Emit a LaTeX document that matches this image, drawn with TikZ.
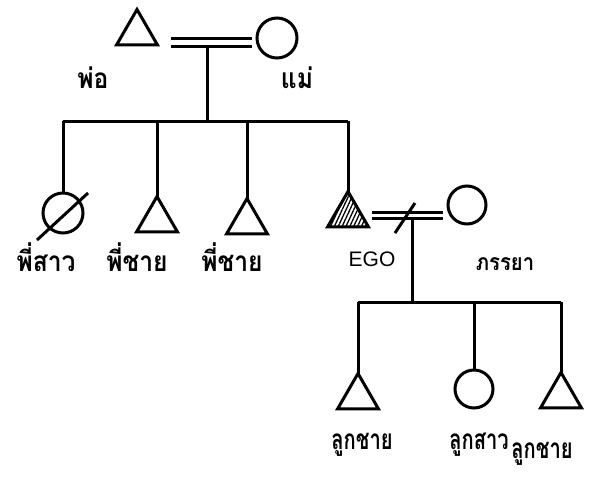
\documentclass[tikz,border=0pt]{standalone}
\usepackage{fontspec}
\newfontfamily\thai[Script=Thai,FakeStretch=0.88]{Loma}
\newfontfamily\thaic[Script=Thai,FakeStretch=0.72]{Loma}
\newfontfamily\lat{Liberation Sans}
\usetikzlibrary{shapes.geometric,patterns.meta}
\tikzset{
  ln/.style={line width=3pt},
  male/.style={regular polygon,regular polygon sides=3,draw,line width=3pt,minimum size=47pt,inner sep=0pt,outer sep=0pt},
  female/.style={circle,draw,line width=3pt,inner sep=0pt,outer sep=0pt},
  lbl/.style={font=\thai\bfseries\fontsize{28}{28}\selectfont,inner sep=0pt},
  clbl/.style={font=\thaic\bfseries\fontsize{28}{28}\selectfont,inner sep=0pt}
}
\begin{document}
\begin{tikzpicture}[x=1pt,y=-1pt]
\useasboundingbox (0,0) rectangle (616,488);
% generation 1
\node[male] (father) at (137,33) {};
\node[female,minimum size=40pt] (mother) at (277,38) {};
\coordinate (fa) at (171,38); \coordinate (fb) at (252,38);
\coordinate (fc) at (171,46); \coordinate (fd) at (252,46);
\coordinate (fm) at (207,46);
\draw[ln] (fa) -- (fb);
\draw[ln] (fc) -- (fd);
\node[lbl] (lfather) at (93,78) {พ่อ};
\node[lbl] (lmother) at (297,78) {แม่};
% sibling bar
\coordinate (sb) at (207,121);
\coordinate (s1) at (63,121); \coordinate (s2) at (157,121);
\coordinate (s3) at (247,121); \coordinate (s4) at (348,121);
\draw[ln] (fm) -- (sb);
\draw[ln] (s1) -- (s4);
% siblings
\node[female,minimum size=40pt] (sister) at (63,213) {};
\coordinate (sla) at (37,240); \coordinate (slb) at (88,193);
\draw[ln] (sla) -- (slb);
\node[male] (bro1) at (157,220) {};
\node[male] (bro2) at (247,222) {};
\node[male,pattern={Lines[angle=65,distance=3.5pt,line width=1.3pt]}] (ego) at (348,215) {};
\draw[ln] (s1) -- (sister.north);
\draw[ln] (s2) -- (bro1.corner 1);
\draw[ln] (s3) -- (bro2.corner 1);
\draw[ln] (s4) -- (ego.corner 1);
\node[lbl] (lsister) at (46,257) {พี่สาว};
\node[lbl] (lbro1) at (137,257) {พี่ชาย};
\node[lbl] (lbro2) at (232,257) {พี่ชาย};
\node[font=\lat\fontsize{21}{21}\selectfont,inner sep=0pt] (lego) at (372,259) {EGO};
% ego marriage
\node[female,minimum size=38pt] (wife) at (467,205) {};
\coordinate (ea) at (372,212); \coordinate (eb) at (443,212);
\coordinate (ec) at (372,218); \coordinate (ed) at (443,218);
\coordinate (em) at (412,218);
\draw[ln] (ea) -- (eb);
\draw[ln] (ec) -- (ed);
\coordinate (dva) at (395,233); \coordinate (dvb) at (415,203);
\draw[ln] (dva) -- (dvb);
\node[lbl,font=\thai\bfseries\fontsize{23}{23}\selectfont] (lwife) at (505,264) {ภรรยา};
% children
\coordinate (cb) at (412,302);
\coordinate (c1) at (358,302); \coordinate (c2) at (474,302); \coordinate (c3) at (561,302);
\draw[ln] (em) -- (cb);
\draw[ln] (c1) -- (c3);
\node[male] (child1) at (358,397) {};
\node[female,minimum size=38pt] (child2) at (474,389) {};
\node[male] (child3) at (561,396) {};
\draw[ln] (c1) -- (child1.corner 1);
\draw[ln] (c2) -- (child2.north);
\draw[ln] (c3) -- (child3.corner 1);
\node[clbl] (lchild1) at (362,445) {ลูกชาย};
\node[clbl] (lchild2) at (479,445) {ลูกสาว};
\node[clbl] (lchild3) at (542,454) {ลูกชาย};
\end{tikzpicture}
\end{document}
